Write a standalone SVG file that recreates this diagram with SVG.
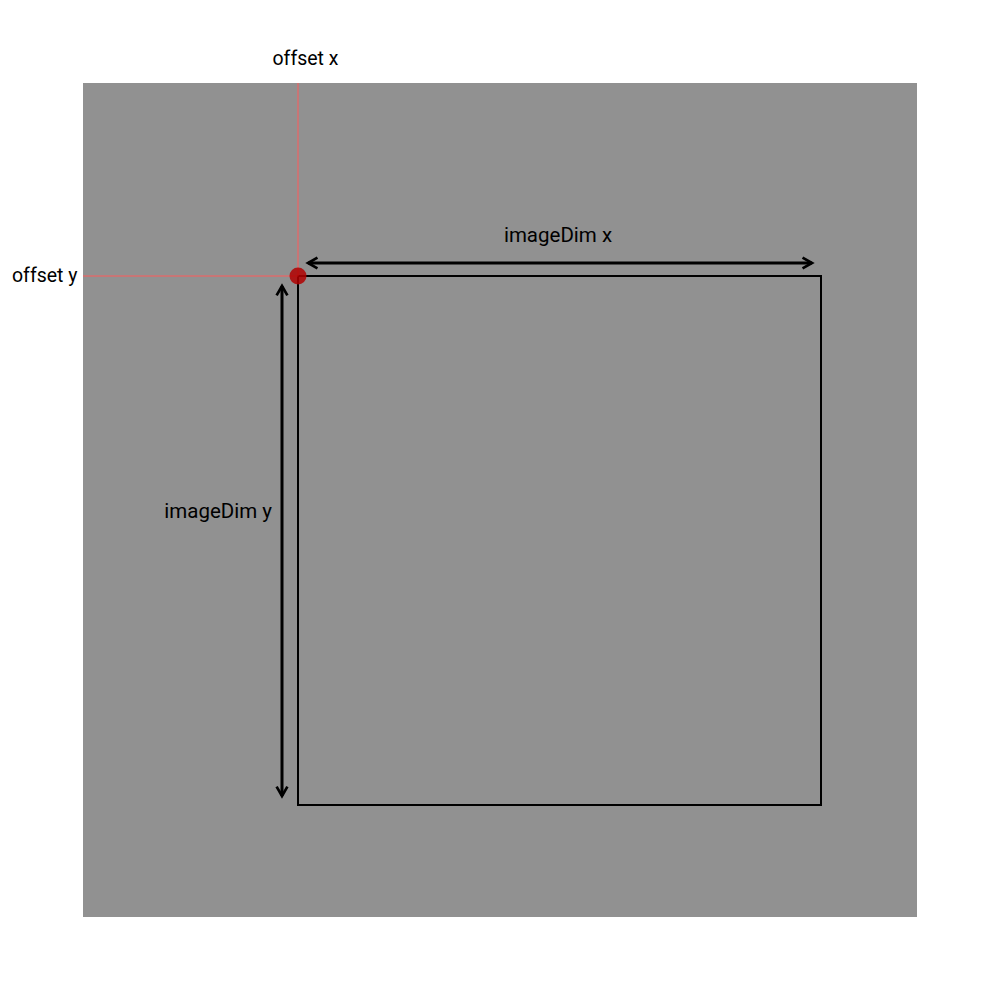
<svg xmlns="http://www.w3.org/2000/svg" width="1000" height="1000" viewBox="0 0 1000 1000">
<style>
text{font-family:Roboto,"Noto Sans",sans-serif;font-size:20.5px;fill:#000}
text.off{font-size:19.5px}
.guide{stroke:#ff5a5a;stroke-width:1;fill:none}
.dim{stroke:#000;stroke-width:3;fill:none}
</style>
<defs>
<marker id="ah" viewBox="0 0 10 10" refX="8" refY="5" markerWidth="4.5" markerHeight="4.5" orient="auto-start-reverse" markerUnits="strokeWidth">
<path d="M1,1 L8,5 L1,9" fill="none" stroke="#000" stroke-width="2"/>
</marker>
</defs>
<rect width="1000" height="1000" fill="#fff"/>
<g id="canvas"><rect x="83" y="83" width="834" height="834" fill="#919191"/></g>
<g id="image"><rect x="298" y="276" width="523" height="529" fill="none" stroke="#000" stroke-width="2"/></g>
<g id="guides">
<line class="guide" x1="298" y1="83" x2="298" y2="276"/>
<line class="guide" x1="83" y1="276" x2="298" y2="276"/>
</g>
<g id="origin"><circle cx="298" cy="276" r="8.5" fill="#b00000" fill-opacity="0.85"/></g>
<g id="connectors">
<line class="dim" x1="308" y1="263" x2="812" y2="263" marker-start="url(#ah)" marker-end="url(#ah)"/>
<line class="dim" x1="282" y1="286" x2="282" y2="796" marker-start="url(#ah)" marker-end="url(#ah)"/>
</g>
<g id="labels">
<text class="off" x="305.5" y="65" text-anchor="middle">offset x</text>
<text class="off" x="12" y="282">offset y</text>
<text x="558" y="242" text-anchor="middle">imageDim x</text>
<text x="272" y="518" text-anchor="end">imageDim y</text>
</g>
</svg>
